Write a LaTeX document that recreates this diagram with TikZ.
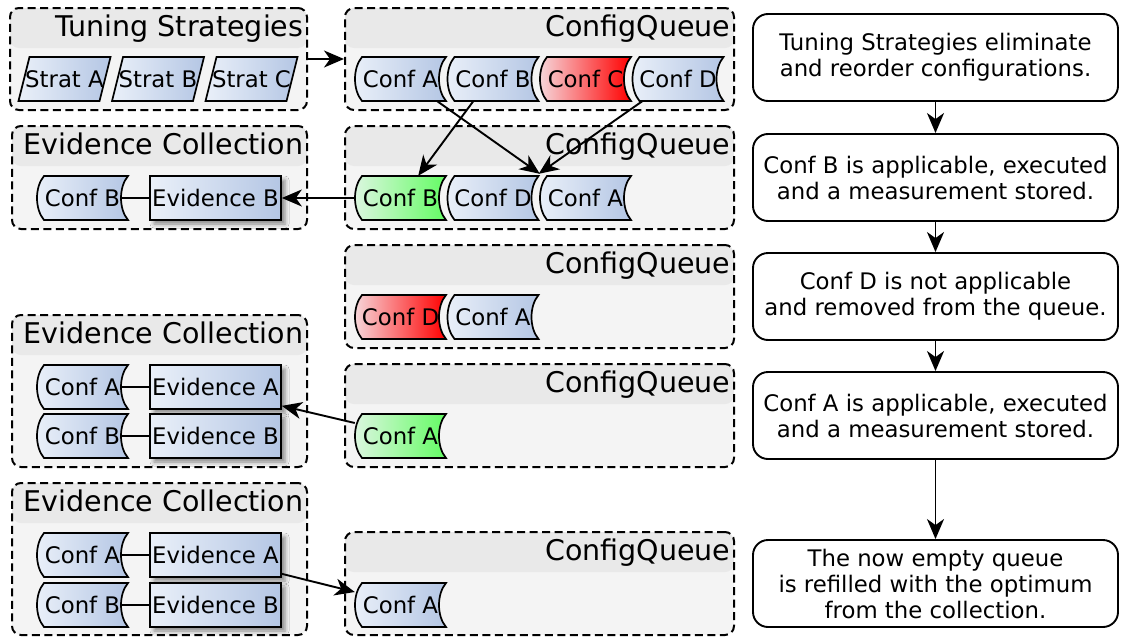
\documentclass[tikz,border=0pt]{standalone}
\usepackage{fontspec}
\setmainfont{DejaVu Sans}
\usetikzlibrary{arrows.meta,shadows.blur}
\definecolor{hdr}{RGB}{233,233,233}
\definecolor{bodyc}{RGB}{244,244,244}
\definecolor{bla}{RGB}{234,240,249}
\definecolor{blb}{RGB}{180,198,228}
\definecolor{rda}{RGB}{246,218,222}
\definecolor{rdb}{RGB}{255,0,0}
\definecolor{gra}{RGB}{222,246,226}
\definecolor{grb}{RGB}{100,252,100}
\newcommand\conf[4]{%
  \path[#4, draw=black, line width=1.7pt, shift={(#2)}] (-38.5,-22) -- (45.5,-22)
   .. controls (36.17,-11) and (36.17,11) .. (45.5,22) -- (-38.5,22)
   .. controls (-47.83,11) and (-47.83,-11) .. (-38.5,-22) -- cycle;
  \node[confn] (#1) at (#2) {#3};}
\newcommand\strat[3]{%
  \path[blueshade, draw=black, line width=1.7pt, shift={(#2)}] (-35,-22) -- (46,-22) -- (35,22) -- (-46,22) -- cycle;
  \node[confn] (#1) at (#2) {#3};}
\newcommand\container[5]{% name, center, width, height, title
  \node[container, minimum width=#3pt, minimum height=#4pt] (#1) at (#2) {};
  \node[title] (#1t) at ([xshift=-4.5pt,yshift=-29.5pt]#1.north east) {#5};}
\tikzset{
 txt/.style={font=\fontsize{22.8pt}{26pt}\selectfont},
 confn/.style={txt, minimum width=91pt, minimum height=44pt, inner sep=0pt},
 blueshade/.style={left color=bla, right color=blb},
 redshade/.style={left color=rda, right color=rdb},
 greenshade/.style={left color=gra, right color=grb},
 container/.style={draw, dash pattern=on 8pt off 4.5pt, line width=2pt, rounded corners=9pt, fill=bodyc, inner sep=0pt,
   path picture={\fill[hdr] (path picture bounding box.north west) rectangle ([yshift=-40pt]path picture bounding box.north east);}},
 title/.style={font=\fontsize{28.5pt}{30pt}\selectfont, anchor=base east, inner sep=0pt},
 evid/.style={txt, draw, line width=1.7pt, minimum width=131pt, minimum height=44pt, inner sep=0pt, left color=bla, right color=blb,
   blur shadow={shadow xshift=4pt, shadow yshift=-4pt, shadow opacity=45, shadow blur radius=4pt}},
 stepbox/.style={txt, draw, line width=1.9pt, rounded corners=15pt, minimum width=365pt, minimum height=87pt, align=center, inner sep=0pt, fill=white},
 arr/.style={line width=1.9pt, -{Stealth[length=20pt,width=17pt,inset=6pt]}},
 link/.style={line width=1.8pt},
}
\begin{document}
\begin{tikzpicture}[x=1pt,y=-1pt]
\useasboundingbox (0,0) rectangle (1121,637);
\container{ts}{158.5,59}{297}{102}{Tuning Strategies}
\container{q1}{539.5,59}{389}{102}{ConfigQueue}
\container{e1}{159.5,177.5}{295}{103}{Evidence Collection}
\container{q2}{539.5,177.5}{389}{103}{ConfigQueue}
\container{q3}{539.5,296.5}{389}{103}{ConfigQueue}
\container{e2}{159.5,391}{295}{152}{Evidence Collection}
\container{q4}{539.5,415.5}{389}{103}{ConfigQueue}
\container{e3}{159.5,559}{295}{152}{Evidence Collection}
\container{q5}{539.5,583.5}{389}{103}{ConfigQueue}
% strategies
\strat{sa}{64.5,79}{Strat A}
\strat{sb}{158,79}{Strat B}
\strat{sc}{251.5,79}{Strat C}
% queues
\conf{q1a}{400.5,79}{Conf A}{blueshade}
\conf{q1b}{493,79}{Conf B}{blueshade}
\conf{q1c}{585.5,79}{Conf C}{redshade}
\conf{q1d}{678,79}{Conf D}{blueshade}
\conf{q2b}{400.5,198}{Conf B}{greenshade}
\conf{q2d}{493,198}{Conf D}{blueshade}
\conf{q2a}{585.5,198}{Conf A}{blueshade}
\conf{q3d}{400.5,317}{Conf D}{redshade}
\conf{q3a}{493,317}{Conf A}{blueshade}
\conf{q4a}{400.5,436}{Conf A}{greenshade}
\conf{q5a}{400.5,605}{Conf A}{blueshade}
% evidence
\conf{e1b}{82.5,198}{Conf B}{blueshade}
\node[evid] (e1B) at (215.5,198) {Evidence B};
\conf{e2a}{82.5,387}{Conf A}{blueshade}
\node[evid] (e2A) at (215.5,387) {Evidence A};
\conf{e2b}{82.5,436}{Conf B}{blueshade}
\node[evid] (e2B) at (215.5,436) {Evidence B};
\conf{e3a}{82.5,555}{Conf A}{blueshade}
\node[evid] (e3A) at (215.5,555) {Evidence A};
\conf{e3b}{82.5,605}{Conf B}{blueshade}
\node[evid] (e3B) at (215.5,605) {Evidence B};
% links
\draw[link] ([xshift=-7pt]e1b.east) -- (e1B.west);
\draw[link] ([xshift=-7pt]e2a.east) -- (e2A.west);
\draw[link] ([xshift=-7pt]e2b.east) -- (e2B.west);
\draw[link] ([xshift=-7pt]e3a.east) -- (e3A.west);
\draw[link] ([xshift=-7pt]e3b.east) -- (e3B.west);
% arrows
\draw[arr] (ts.east) -- (q1.west);
\draw[arr] ([xshift=-9pt]q1a.south east) -- ([yshift=2pt]q2a.north west);
\draw[arr] ([xshift=26pt]q1b.south west) -- ([xshift=-28pt]q2b.north east);
\draw[arr] ([xshift=10pt]q1d.south west) -- ([yshift=2pt]q2d.north east);
\draw[arr] (q2b.west) -- (e1B.east);
\draw[arr] ([yshift=13pt]q4a.west) -- ([yshift=4pt]e2A.south east);
\draw[arr] ([yshift=4pt]e3A.south east) -- ([yshift=13pt]q5a.west);
% right column
\node[stepbox] (r1) at (935.5,57.5) {Tuning Strategies eliminate\\and reorder configurations.};
\node[stepbox] (r2) at (935.5,177.5) {Conf B is applicable, executed\ \\ and a measurement stored.};
\node[stepbox] (r3) at (935.5,296.5) {Conf D is not applicable\\and removed from the queue.};
\node[stepbox] (r4) at (935.5,415.5) {Conf A is applicable, executed\ \\ and a measurement stored.};
\node[stepbox] (r5) at (935.5,583.5) {The now empty queue\\is refilled with the optimum\\from the collection.};
\draw[arr] (r1.south) -- (r2.north);
\draw[arr] (r2.south) -- (r3.north);
\draw[arr] (r3.south) -- (r4.north);
\draw[arr] (r4.south) -- (r5.north);
\end{tikzpicture}
\end{document}
